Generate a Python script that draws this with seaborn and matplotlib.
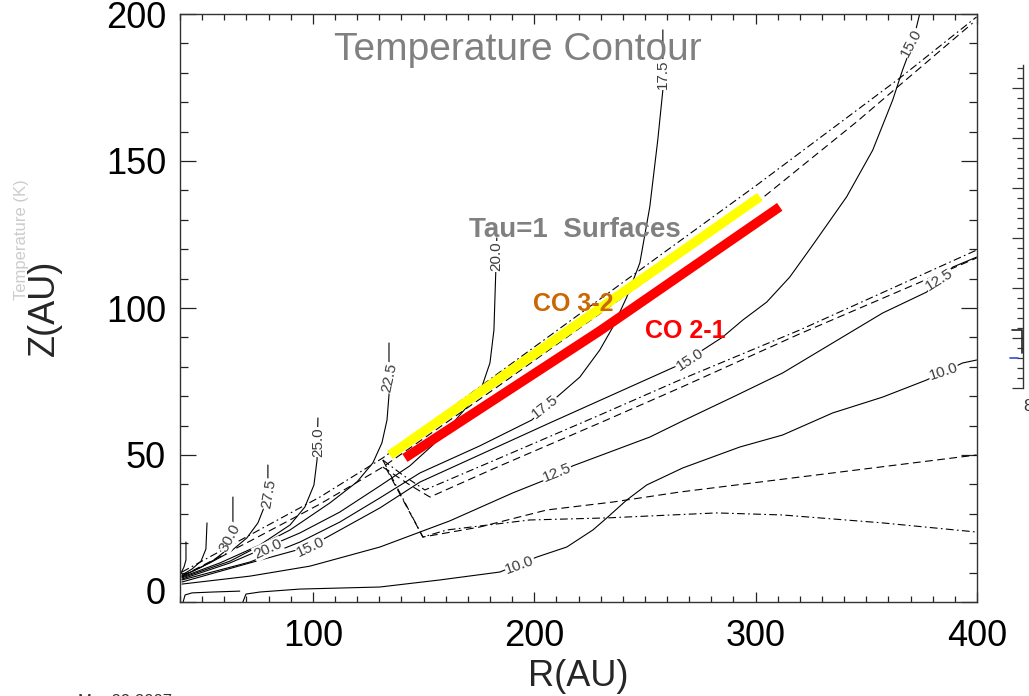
import matplotlib
matplotlib.use("Agg")
import matplotlib.pyplot as plt
import matplotlib.transforms as mtransforms
from matplotlib.ticker import MultipleLocator
import seaborn as sns

# ---------------- data (R, Z in AU) ----------------
# solid temperature contours, traced as polylines
T350_R = [40.5, 41.8, 42.7, 42.7]
T350_Z = [9.9, 11.9, 14.3, 20.4]
T325_R = [40.9, 45.4, 49.5, 51.7, 52.2]
T325_Z = [9.2, 11.2, 13.9, 18.0, 26.9]
T300_R = [40.9, 49.0, 55.3, 59.9, 63.0, 63.9, 63.9]
T300_Z = [8.8, 11.6, 14.3, 17.0, 21.8, 26.2, 35.7]
T275_R = [40.9, 53.5, 62.6, 70.2, 75.2, 78.4, 79.7, 79.7]
T275_Z = [8.8, 13.3, 17.0, 21.8, 26.9, 33.0, 38.1, 46.6]
T250_R = [40.9, 58.1, 76.1, 89.7, 96.4, 100.5, 101.9, 102.3]
T250_Z = [8.5, 13.3, 19.4, 26.2, 32.3, 39.8, 48.3, 62.6]
T225_R = [40.9, 62.6, 89.7, 107.7, 119.9, 127.1, 131.2, 133.5, 134.4, 134.4]
T225_Z = [8.2, 13.9, 24.5, 33.7, 40.8, 47.3, 54.1, 61.9, 70.4, 88.1]
T200_R = [40.9, 62.6, 78.4, 94.2, 112.2, 130.3, 143.8, 154.2, 163.3, 172.3,
          176.3, 180.0, 181.8, 182.7, 183.1]
T200_Z = [7.8, 13.3, 18.4, 23.5, 30.6, 39.5, 46.3, 53.4, 60.9, 68.7,
          73.1, 81.3, 92.5, 113.9, 123.8]
T175_R = [40.9, 71.6, 94.2, 112.2, 130.3, 148.4, 175.4, 198.9, 210.2, 220.6,
          229.6, 235.5, 241.8, 247.7, 252.2, 255.8, 258.1, 258.1]
T175_Z = [7.5, 13.6, 20.4, 27.2, 35.4, 43.9, 53.1, 61.9, 69.7, 76.5,
          85.7, 93.5, 103.7, 115.3, 134.4, 157.1, 174.1, 194.6]
T150_R = [40.9, 71.6, 99.1, 130.3, 148.4, 207.0, 264.4, 276.1, 285.1, 294.2,
          305.0, 315.4, 325.8, 341.1, 352.9, 361.9, 366.4, 370.9, 374.1]
T150_Z = [6.8, 13.3, 19.0, 32.0, 40.8, 60.9, 80.3, 85.7, 90.1, 95.9,
          102.0, 110.5, 121.4, 137.8, 153.7, 170.7, 181.0, 190.1, 200.0]
T125_R = [40.9, 71.6, 98.7, 130.3, 161.9, 190.3, 203.9, 217.4, 252.2, 267.1,
          289.7, 312.2, 334.8, 357.4, 377.2, 389.0, 399.8]
T125_Z = [6.1, 8.8, 12.2, 18.7, 27.6, 37.1, 41.2, 46.3, 56.1, 61.6,
          69.7, 77.9, 88.1, 98.3, 105.4, 113.9, 117.3]
T100_R = [68.4, 69.8, 76.1, 94.2, 130.3, 157.4, 184.5, 201.2, 214.7, 226.5,
          232.8, 241.8, 250.8, 267.1, 292.8, 312.2, 334.8, 357.4, 377.2, 393.5, 399.8]
T100_Z = [0.0, 2.7, 3.4, 4.4, 5.1, 7.5, 10.2, 15.3, 18.7, 24.5,
          28.6, 34.7, 39.8, 45.6, 52.7, 56.8, 64.3, 69.7, 75.5, 81.3, 82.3]
TLOW_R = [41.4, 42.3, 45.4, 55.0, 67.0]
TLOW_Z = [0.0, 2.4, 3.1, 3.4, 3.7]

# contour labels: text, R, Z, angle
LABEL_TXT = ["30.0", "27.5", "25.0", "22.5", "20.0", "17.5", "15.0",
             "20.0", "15.0", "17.5", "15.0", "12.5", "12.5", "10.0", "10.0"]
LABEL_R = [62.6, 80.2, 102.3, 134.8, 182.7, 258.1, 370.5,
           79.7, 99.1, 204.8, 270.2, 210.2, 383.1, 193.5, 384.9]
LABEL_Z = [21.8, 36.7, 54.4, 76.2, 117.5, 179.5, 190.1,
           18.0, 18.7, 66.3, 82.3, 43.9, 109.5, 12.6, 78.2]
LABEL_ANG = [62, 80, 90, 78, 90, 90, 62,
             25, 25, 38, 33, 22, 32, 20, 18]

# tau = 1 surfaces (dash-dot and dashed)
DD1_R = [40.9, 71.6, 103.2, 131.6, 184.5, 247.7, 300.5, 365.1, 399.8]
DD1_Z = [10.2, 22.8, 35.7, 49.0, 78.2, 112.9, 141.8, 178.2, 199.0]
DA1_R = [40.9, 71.6, 103.2, 131.6, 184.5, 247.7, 301.9, 345.6, 398.0]
DA1_Z = [8.8, 20.7, 33.3, 45.9, 73.8, 107.8, 136.7, 163.3, 196.9]
DD2_R = [131.6, 140.6, 150.6, 184.5, 229.6, 265.7, 319.9, 399.8]
DD2_Z = [48.3, 43.2, 38.1, 49.0, 63.6, 75.5, 92.5, 119.7]
DA2_R = [131.6, 143.8, 152.9, 184.5, 229.6, 265.7, 319.9, 399.8]
DA2_Z = [45.9, 39.8, 35.7, 46.3, 60.9, 72.8, 91.2, 117.0]
DD3_R = [131.6, 149.7, 160.5, 198.0, 232.8, 282.4, 312.2, 357.4, 399.8]
DD3_Z = [48.3, 22.1, 24.5, 27.9, 28.6, 30.3, 29.6, 26.9, 23.8]
DA3_R = [133.0, 149.7, 175.4, 205.7, 235.5, 265.7, 399.8]
DA3_Z = [45.6, 22.1, 25.5, 31.3, 34.0, 37.4, 50.0]

# CO emission layers
CO32_R = [134.8, 218.3, 301.9]
CO32_Z = [50.0, 93.9, 137.8]
CO21_R = [141.6, 229.6, 310.9]
CO21_Z = [49.0, 92.2, 134.4]

X_TICKS = [100, 200, 300, 400]
Y_TICKS = [0, 50, 100, 150, 200]

# neighbouring colour-bar panel at the right edge
BAR_TICK_LABEL = ["80"]
BAR_STEP_X = [-0.36, -0.03, -0.03]
BAR_STEP_Y = [5.8, 5.8, 3.5]
BAR_MARK_X = [-0.42, -0.16]
BAR_MARK_Y = [3.0, 3.0]

# ---------------- figure ----------------
sns.set_theme(style="white")
plt.rcParams["font.family"] = ["Liberation Sans", "DejaVu Sans"]

fig = plt.figure(figsize=(10.29, 6.96), dpi=100)
ax = fig.add_axes([180 / 1029, 1 - 602 / 696, 797 / 1029, 588 / 696])


def line(r, z, target=ax, **kw):
    sns.lineplot(x=r, y=z, ax=target, sort=False, estimator=None, **kw)


solid = [(T350_R, T350_Z), (T325_R, T325_Z), (T300_R, T300_Z), (T275_R, T275_Z),
         (T250_R, T250_Z), (T225_R, T225_Z), (T200_R, T200_Z), (T175_R, T175_Z),
         (T150_R, T150_Z), (T125_R, T125_Z), (T100_R, T100_Z), (TLOW_R, TLOW_Z)]
for r, z in solid:
    line(r, z, color="black", linewidth=0.8, zorder=2)

dashdot = (0, (7, 3, 1.5, 3))
dashed = (0, (7, 4))
for r, z in [(DD1_R, DD1_Z), (DD2_R, DD2_Z), (DD3_R, DD3_Z)]:
    line(r, z, color="black", linewidth=0.8, linestyle=dashdot, zorder=2)
for r, z in [(DA1_R, DA1_Z), (DA2_R, DA2_Z), (DA3_R, DA3_Z)]:
    line(r, z, color="black", linewidth=0.8, linestyle=dashed, zorder=2)

for t, r, z, a in zip(LABEL_TXT, LABEL_R, LABEL_Z, LABEL_ANG):
    ax.text(r, z, t, rotation=a, rotation_mode="anchor", ha="center", va="center",
            fontsize=11, color="#3c3c3c", zorder=3,
            bbox=dict(facecolor="white", edgecolor="none", pad=0.4))

line(CO32_R, CO32_Z, color="#ffff00", linewidth=6.8, zorder=5,
     solid_capstyle="butt")
line(CO21_R, CO21_Z, color="#ff0000", linewidth=6.8, zorder=5,
     solid_capstyle="butt")

ax.text(0.424, 0.939, "Temperature Contour", transform=ax.transAxes,
        ha="center", va="center", fontsize=28, color="#808080", zorder=6)
ax.text(0.4956, 0.633, "Tau=1  Surfaces", transform=ax.transAxes,
        ha="center", va="center", fontsize=20, color="#808080", fontweight="bold",
        zorder=6)
ax.text(0.494, 0.507, "CO 3-2", transform=ax.transAxes,
        ha="center", va="center", fontsize=18, color="#cc6600", fontweight="bold",
        zorder=6)
ax.text(0.634, 0.461, "CO 2-1", transform=ax.transAxes,
        ha="center", va="center", fontsize=18, color="#ff0000", fontweight="bold",
        zorder=6)

ax.set_xlim(40, 400)
ax.set_ylim(0, 200)
ax.set_xticks(X_TICKS)
ax.set_yticks(Y_TICKS)
ax.xaxis.set_minor_locator(MultipleLocator(10))
ax.yaxis.set_minor_locator(MultipleLocator(10))
ax.tick_params(axis="both", which="both", direction="in", top=True, right=True,
               bottom=True, left=True, colors="#222222", width=0.9,
               labelcolor="black")
ax.tick_params(axis="x", which="major", length=7.5, labelsize=26, pad=12)
ax.tick_params(axis="x", which="minor", length=4.5)
ax.tick_params(axis="y", which="major", length=11.5, labelsize=26, pad=10)
ax.tick_params(axis="y", which="minor", length=5.8)
for s in ax.spines.values():
    s.set_color("#333333")
    s.set_linewidth(1.0)
ax.set_xlabel("R(AU)", fontsize=26, labelpad=4)
ax.set_ylabel("Z(AU)", fontsize=26, labelpad=32)

# the "0" label sits a little above the bottom edge
zero_lbl = ax.get_yticklabels()[0]
zero_lbl.set_transform(zero_lbl.get_transform() +
                       mtransforms.ScaledTranslation(0, 11 / 100, fig.dpi_scale_trans))

# partial colour-bar panel cut by the right edge
bx = fig.add_axes([1023 / 1029, 1 - 388 / 696, 0.03, (388 - 65) / 696])
bx.set_xlim(0, 1)
bx.set_ylim(0, 32.3)
for k in ["top", "right", "bottom"]:
    bx.spines[k].set_visible(False)
bx.spines["left"].set_color("#333333")
bx.spines["left"].set_linewidth(1.0)
bx.yaxis.set_major_locator(MultipleLocator(5))
bx.yaxis.set_minor_locator(MultipleLocator(1))
bx.tick_params(axis="y", which="both", left=True, direction="out", width=0.9,
               colors="#333333", labelleft=False)
bx.tick_params(axis="y", which="major", length=8)
bx.tick_params(axis="y", which="minor", length=4)
bx.set_xticks([0])
bx.set_xticklabels(BAR_TICK_LABEL)
bx.tick_params(axis="x", length=0, labelsize=12, pad=8, labelcolor="#333333")
for lbl in bx.get_xticklabels():
    lbl.set_horizontalalignment("left")
line(BAR_STEP_X, BAR_STEP_Y, target=bx, color="#222222", linewidth=1.2,
     clip_on=False)
line(BAR_MARK_X, BAR_MARK_Y, target=bx, color="#3050d0", linewidth=1.2,
     clip_on=False)
bx.set_facecolor("none")

fig.text(22 / 1029, 1 - 240 / 696, "Temperature (K)", rotation=90, ha="center",
         va="center", fontsize=12, color="#cccccc")
fig.text(78 / 1029, 1 - 701 / 696, "Mar 29 2007", ha="left", va="center",
         fontsize=12, color="#333333")

fig.savefig("out.png", dpi=100)
